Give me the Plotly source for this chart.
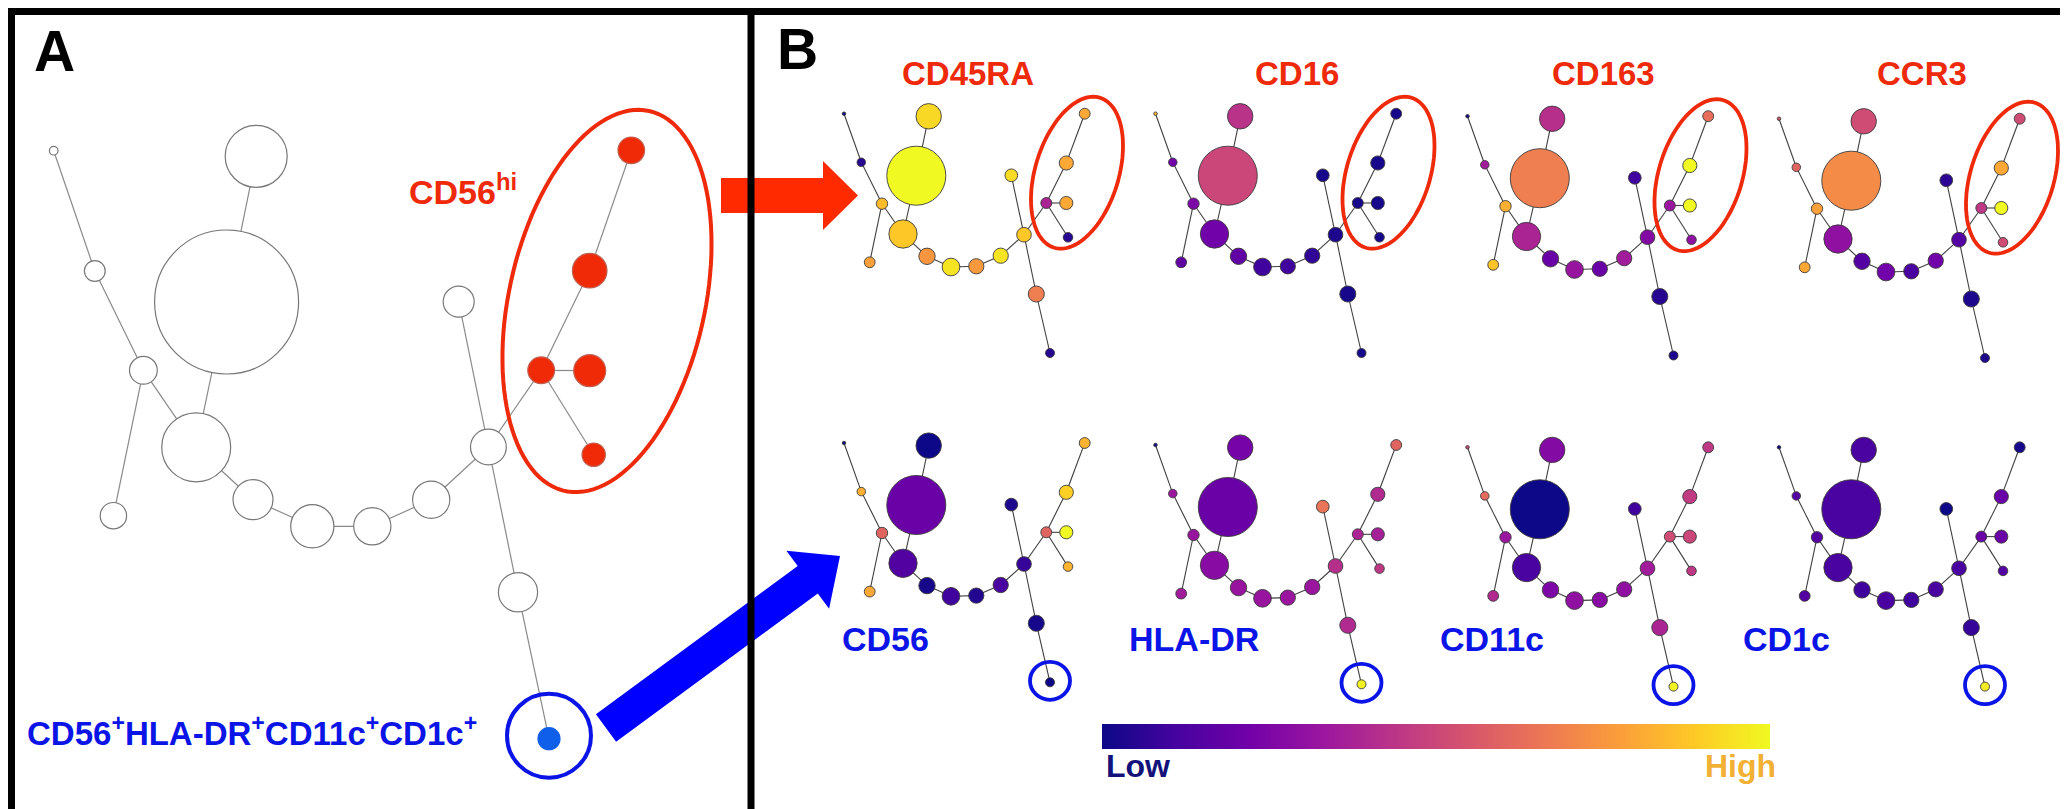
import numpy as np
import plotly.graph_objects as go
import plotly.express as px

W, H = 2068, 809

# ---------------- data ----------------
# tree topology (shared by all panels)
edges = [(0, 1), (1, 2), (2, 3), (2, 6), (4, 5), (4, 6), (6, 7), (7, 8), (8, 9),
         (9, 10), (10, 11), (11, 12), (11, 13), (11, 18), (13, 14), (14, 15),
         (13, 16), (13, 17), (18, 19)]

# panel A layout (node centres) and node radius
a_x = [45.7, 86.8, 135.4, 105.4, 218.6, 248.2, 188.2, 245.0, 304.3, 364.3,
       423.2, 480.4, 450.7, 533.2, 581.7, 623.3, 581.7, 585.7, 510.0, 541.0]
a_y = [142.7, 263.0, 362.3, 507.7, 294.0, 148.3, 439.3, 491.7, 518.3, 518.3,
       491.7, 439.0, 293.7, 362.3, 262.7, 142.3, 362.7, 446.7, 584.3, 730.7]
node_r = [4.3, 10.4, 13.9, 13.2, 72.0, 31.0, 34.5, 20.0, 21.6, 18.6,
          18.6, 17.9, 15.5, 13.4, 17.3, 13.3, 16.0, 11.7, 19.6, 11.0]
# highlight group of each node in panel A
a_group = ["n"] * 13 + ["r"] * 5 + ["n", "b"]

# small-multiple layout (relative to the left-most tip)
b_x = [0, 17.3, 38, 25.7, 72.3, 84.7, 59, 83, 107, 132.3,
       156.7, 180, 167.3, 202.3, 222.3, 240.7, 222.3, 224, 192.3, 206]
b_y = [0, 48.6, 90, 148.6, 62, 2.6, 120.3, 142.6, 153.3, 152.6,
       142, 121, 61.6, 89.3, 49.3, 0, 89.3, 123.6, 180.3, 239.3]

markers_top = ["CD45RA", "CD16", "CD163", "CCR3"]
markers_bot = ["CD56", "HLA-DR", "CD11c", "CD1c"]

# relative expression (0 = low, 1 = high) per node
expr = {
    "CD45RA": [0.0, 0.05, 0.85, 0.78, 1.0, 0.92, 0.88, 0.75, 0.95, 0.76,
               0.95, 0.88, 0.93, 0.38, 0.80, 0.80, 0.80, 0.05, 0.68, 0.05],
    "CD16":   [0.85, 0.22, 0.25, 0.18, 0.50, 0.43, 0.22, 0.18, 0.10, 0.10,
               0.07, 0.03, 0.02, 0.02, 0.02, 0.02, 0.02, 0.02, 0.02, 0.02],
    "CD163":  [0.0, 0.35, 0.82, 0.87, 0.68, 0.42, 0.38, 0.20, 0.32, 0.20,
               0.35, 0.27, 0.10, 0.33, 1.00, 0.63, 1.00, 0.30, 0.05, 0.03],
    "CCR3":   [0.55, 0.60, 0.78, 0.80, 0.72, 0.52, 0.30, 0.15, 0.22, 0.12,
               0.22, 0.15, 0.06, 0.45, 0.80, 0.52, 1.00, 0.52, 0.03, 0.03],
    "CD56":   [0.0, 0.82, 0.60, 0.80, 0.20, 0.0, 0.14, 0.02, 0.10, 0.04,
               0.12, 0.08, 0.03, 0.60, 0.90, 0.83, 1.00, 0.83, 0.02, 0.0],
    "HLA-DR": [0.0, 0.33, 0.32, 0.35, 0.20, 0.23, 0.28, 0.32, 0.32, 0.33,
               0.33, 0.42, 0.65, 0.38, 0.40, 0.60, 0.36, 0.45, 0.40, 0.98],
    "CD11c":  [0.5, 0.62, 0.33, 0.40, 0.0, 0.27, 0.12, 0.25, 0.30, 0.28,
               0.30, 0.35, 0.10, 0.52, 0.46, 0.45, 0.50, 0.45, 0.38, 0.98],
    "CD1c":   [0.0, 0.15, 0.15, 0.15, 0.12, 0.12, 0.12, 0.10, 0.12, 0.10,
               0.12, 0.12, 0.0, 0.20, 0.20, 0.02, 0.20, 0.15, 0.08, 0.97],
}

# ---------------- styling / placement ----------------
RED = "#EE2A0A"
BLUE = "#0A14E6"
FONT = "Arial, Liberation Sans, sans-serif"
mini_scale = 0.41
col_x = [836.0, 1147.5, 1459.5, 1771.0]
row_top_y = [105.7, 105.7, 108.2, 110.7]
row_bot_y = [435.0, 437.0, 439.3, 439.3]

fig = go.Figure()


def edge_xy(xs, ys):
    ex, ey = [], []
    for i, j in edges:
        ex += [xs[i], xs[j], None]
        ey += [ys[i], ys[j], None]
    return ex, ey


# ---- panel A ----
ex, ey = edge_xy(a_x, a_y)
fig.add_trace(go.Scatter(x=ex, y=ey, mode="lines",
                         line=dict(color="#8a8a8a", width=1.2), hoverinfo="skip"))
fill_map = {"n": "white", "r": "#F02A06", "b": "#0F5FEA"}
line_map = {"n": "#777777", "r": "#C06050", "b": "#0F5FEA"}
fig.add_trace(go.Scatter(
    x=a_x, y=a_y, mode="markers",
    marker=dict(size=[2 * r for r in node_r], opacity=1,
                color=[fill_map[g] for g in a_group],
                line=dict(color=[line_map[g] for g in a_group], width=1.2)),
    hoverinfo="skip"))

# ---- panel B small multiples ----
panels = []
for k, m in enumerate(markers_top):
    panels.append((m, col_x[k], row_top_y[k]))
for k, m in enumerate(markers_bot):
    panels.append((m, col_x[k], row_bot_y[k]))

for m, ox, oy in panels:
    xs = [ox + v for v in b_x]
    ys = [oy + v for v in b_y]
    ex, ey = edge_xy(xs, ys)
    fig.add_trace(go.Scatter(x=ex, y=ey, mode="lines",
                             line=dict(color="#404040", width=1.1), hoverinfo="skip"))
    fig.add_trace(go.Scatter(
        x=xs, y=ys, mode="markers",
        marker=dict(size=[max(3.5, 2 * mini_scale * r) for r in node_r], opacity=1,
                    color=expr[m], coloraxis="coloraxis",
                    line=dict(color="#3c3c3c", width=0.9)),
        hoverinfo="skip"))

shapes = []


def ellipse_path(cx, cy, a, b, theta_deg, n=120):
    th = np.radians(theta_deg)
    t = np.linspace(0, 2 * np.pi, n)
    px_ = cx + a * np.cos(t) * np.sin(th) + b * np.sin(t) * np.cos(th)
    py_ = cy - a * np.cos(t) * np.cos(th) + b * np.sin(t) * np.sin(th)
    return "M " + " L ".join(f"{u:.1f},{v:.1f}" for u, v in zip(px_, py_)) + " Z"


# red ellipse panel A
shapes.append(dict(type="path", xref="x", yref="y",
                   path=ellipse_path(599, 293, 194.6, 98, 12.5),
                   line=dict(color=RED, width=4)))
# blue circle panel A (around node 19)
shapes.append(dict(type="circle", xref="x", yref="y",
                   x0=a_x[19] - 42, x1=a_x[19] + 42, y0=a_y[19] - 45, y1=a_y[19] + 39,
                   line=dict(color=BLUE, width=4)))
# red ellipses top row
for m, ox, oy in panels[:4]:
    shapes.append(dict(type="path", xref="x", yref="y",
                       path=ellipse_path(ox + 233, oy + 59, 78.4, 41.7, 17),
                       line=dict(color=RED, width=3.8)))
# blue circles bottom row
for m, ox, oy in panels[4:]:
    cx, cy = ox + b_x[19], oy + b_y[19] - 1.5
    shapes.append(dict(type="circle", xref="x", yref="y",
                       x0=cx - 20, x1=cx + 20, y0=cy - 19, y1=cy + 19,
                       line=dict(color=BLUE, width=3.8)))

# red arrow
shapes.append(dict(type="path", xref="x", yref="y",
                   path="M 713,170 L 815,170 L 815,153 L 850,187.5 L 815,222 L 815,205 L 713,205 Z",
                   fillcolor="#FF2A00", line=dict(width=0)))
# blue arrow
tail = np.array([598.0, 720.0]); tip = np.array([832.0, 548.0])
u = (tip - tail) / np.linalg.norm(tip - tail)
nrm = np.array([-u[1], u[0]])
base = tip - 40 * u
pts = [tail + 17 * nrm, base + 17 * nrm, base + 36 * nrm, tip,
       base - 36 * nrm, base - 17 * nrm, tail - 17 * nrm]
shapes.append(dict(type="path", xref="x", yref="y",
                   path="M " + " L ".join(f"{p[0]:.1f},{p[1]:.1f}" for p in pts) + " Z",
                   fillcolor="#0000FF", line=dict(width=0)))

# frames
shapes.append(dict(type="rect", xref="x", yref="y", x0=3.5, x1=W - 4, y0=3.5, y1=H - 3.5,
                   line=dict(color="black", width=7)))
shapes.append(dict(type="line", xref="x", yref="y", x0=743, x1=743, y0=0, y1=H,
                   line=dict(color="black", width=7)))

ann = []


def txt(x, y, s, size, color, xanchor="center", shift=8):
    ann.append(dict(x=x, y=y - shift, xref="x", yref="y", text=s, showarrow=False,
                    xanchor=xanchor, yanchor="middle",
                    font=dict(family=FONT, size=size, color=color)))


txt(24, 52.5, "<b>A</b>", 57, "black", "left", shift=10)
txt(767, 51, "<b>B</b>", 57, "black", "left", shift=10)
txt(399, 185, "<b>CD56<sup>hi</sup></b>", 34, RED, "left", shift=4)
txt(17, 727, "<b>CD56<sup>+</sup>HLA-DR<sup>+</sup>CD11c<sup>+</sup>CD1c<sup>+</sup></b>",
    33, BLUE, "left", shift=4)
for (m, ox, oy), cx in zip(panels[:4], [959.5, 1289, 1595.3, 1914.3]):
    txt(cx, 73.7, f"<b>{m}</b>", 33, RED)
for (m, ox, oy), cx in zip(panels[4:], [877, 1186, 1484, 1778]):
    txt(cx, 639, f"<b>{m}</b>", 34, BLUE)
txt(1096, 766, "<b>Low</b>", 32, "#12127A", "left")
txt(1770, 766, "<b>High</b>", 32, "#F2B134", "right")

fig.update_layout(
    width=W, height=H, margin=dict(l=0, r=0, t=0, b=0),
    paper_bgcolor="white", plot_bgcolor="white", showlegend=False,
    xaxis=dict(range=[0, W], visible=False, fixedrange=True),
    yaxis=dict(range=[H, 0], visible=False, fixedrange=True),
    coloraxis=dict(
        colorscale=px.colors.sequential.Plasma, cmin=0, cmax=1,
        colorbar=dict(orientation="h", x=1094 / W, xanchor="left",
                      y=1 - 741 / H, yanchor="bottom", len=668, lenmode="pixels",
                      thickness=25, thicknessmode="pixels", outlinewidth=0,
                      showticklabels=False, ticks="", xpad=0, ypad=0)),
    shapes=shapes, annotations=ann,
)

fig.write_html("out.html")
